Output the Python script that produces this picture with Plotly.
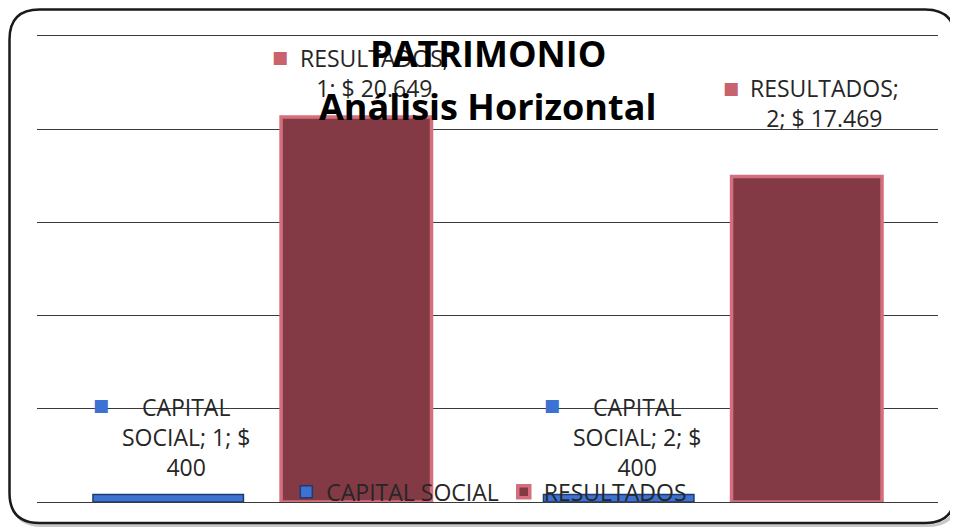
import plotly.graph_objects as go

# ---- data ----
categories = ["1", "2"]
series_names = ["CAPITAL SOCIAL", "RESULTADOS"]
capital_social = [400, 400]
resultados = [20649, 17469]
title_lines = ["PATRIMONIO", "Análisis Horizontal"]

# ---- layout constants (page body has an 8px margin) ----
OFF = 8
W, H = 958 - OFF, 529 - OFF
ML, MT = 37 - OFF, 36 - OFF
PW, PH = 901, 466
MR, MB = W - ML - PW, H - MT - PH
BARGAP, BARGROUPGAP = 0.165, 0.2
FONT = "Open Sans"
TXT = "#262626"
GRID = "#3A3A3A"

blue_fill, blue_line = "#3D72D2", "#1F3A6E"
red_fill, red_line = "#833A45", "#D4707E"

idx = list(range(len(categories)))

fig = go.Figure()
fig.add_trace(go.Bar(name=series_names[0], x=idx, y=capital_social,
                     marker=dict(color=blue_fill, line=dict(color=blue_line, width=1.5))))
fig.add_trace(go.Bar(name=series_names[1], x=idx, y=resultados,
                     marker=dict(color=red_fill, line=dict(color=red_line, width=3.5))))


def fmt(v):
    return f"{v:,}".replace(",", ".")

# slot offset (pixels) of each series within a category group
cat_w = PW / len(categories)
slot = cat_w * (1 - BARGAP) / 2
offsets = [-slot / 2, slot / 2]

annotations = []
label_style = {
    0: dict(dx=18, dy=[58, 58], mdx=-67, mdy=[90, 90], mcolor=blue_fill),
    1: dict(dx=18, dy=[44, 73], mdx=-76, mdy=[60, 88], mcolor="#C9626F"),
}
for si, (name, vals) in enumerate(zip(series_names, [capital_social, resultados])):
    st = label_style[si]
    for ci, (cat, v) in enumerate(zip(categories, vals)):
        if si == 0:
            text = f"CAPITAL<br>SOCIAL; {cat}; $<br>{fmt(v)}"
        else:
            text = f"{name};<br>{cat}; $ {fmt(v)}"
        annotations.append(dict(x=ci, y=v, xref="x", yref="y", text=text, showarrow=False,
                                xshift=offsets[si] + st["dx"], yshift=st["dy"][ci],
                                yanchor="middle", xanchor="center", align="center",
                                font=dict(family=FONT, size=23, color=TXT)))
        annotations.append(dict(x=ci, y=v, xref="x", yref="y", text="■", showarrow=False,
                                xshift=offsets[si] + st["mdx"], yshift=st["mdy"][ci],
                                yanchor="middle", xanchor="center",
                                font=dict(family="DejaVu Sans", size=17, color=st["mcolor"])))

# title (two lines)
annotations.append(dict(x=0.5, y=0.962, xref="paper", yref="paper", text=f"<b>{title_lines[0]}</b>",
                        showarrow=False, yanchor="middle", font=dict(family=FONT, size=36, color="black")))
annotations.append(dict(x=0.5, y=0.848, xref="paper", yref="paper", text=f"<b>{title_lines[1]}</b>",
                        showarrow=False, yanchor="middle", font=dict(family=FONT, size=36, color="black")))

# rounded frame in paper coordinates (pixel positions in figure space)
def px(xp):
    return (xp - ML) / PW


def py(yp):
    return (MT + PH - yp) / PH

x0, x1 = px(1.5), px(947)
y0, y1 = py(515), py(1.5)
rx, ry = 30 / PW, 30 / PH


def rpath(a0, a1, b0, b1):
    return (f"M {a0+rx},{b1} L {a1-rx},{b1} Q {a1},{b1} {a1},{b1-ry} L {a1},{b0+ry} "
            f"Q {a1},{b0} {a1-rx},{b0} L {a0+rx},{b0} Q {a0},{b0} {a0},{b0+ry} "
            f"L {a0},{b1-ry} Q {a0},{b1} {a0+rx},{b1} Z")

shapes = [
    dict(type="path", xref="paper", yref="paper", path=rpath(x0 + 2.5 / PW, x1 + 2.5 / PW, y0 - 2.5 / PH, y1 - 2.5 / PH),
         line=dict(color="#C8C8C8", width=3), layer="below"),
    dict(type="path", xref="paper", yref="paper", path=rpath(x0, x1, y0, y1),
         line=dict(color="#1A1A1A", width=2.5), fillcolor="white", layer="below"),
]

fig.update_layout(
    width=W, height=H,
    margin=dict(l=ML, r=MR, t=MT, b=MB, pad=0),
    paper_bgcolor="white", plot_bgcolor="rgba(0,0,0,0)",
    barmode="group", bargap=BARGAP, bargroupgap=BARGROUPGAP,
    showlegend=True,
    legend=dict(orientation="h", x=0.502, xanchor="center", y=0.022, yanchor="middle",
                bgcolor="rgba(0,0,0,0)", font=dict(family=FONT, size=23, color=TXT),
                itemwidth=30, traceorder="normal"),
    xaxis=dict(range=[-0.5, len(categories) - 0.5], tickvals=idx, ticktext=categories,
               showticklabels=False, showgrid=False, ticks="", showline=True, mirror=True,
               linecolor=GRID, linewidth=1, zeroline=False),
    yaxis=dict(range=[0, 25000], dtick=5000, showticklabels=False, showgrid=True,
               gridcolor=GRID, gridwidth=1, zeroline=True, zerolinecolor="#000000",
               zerolinewidth=1, ticks="", showline=False),
    annotations=annotations,
    shapes=shapes,
    font=dict(family=FONT),
)

fig.write_html("out.html")
